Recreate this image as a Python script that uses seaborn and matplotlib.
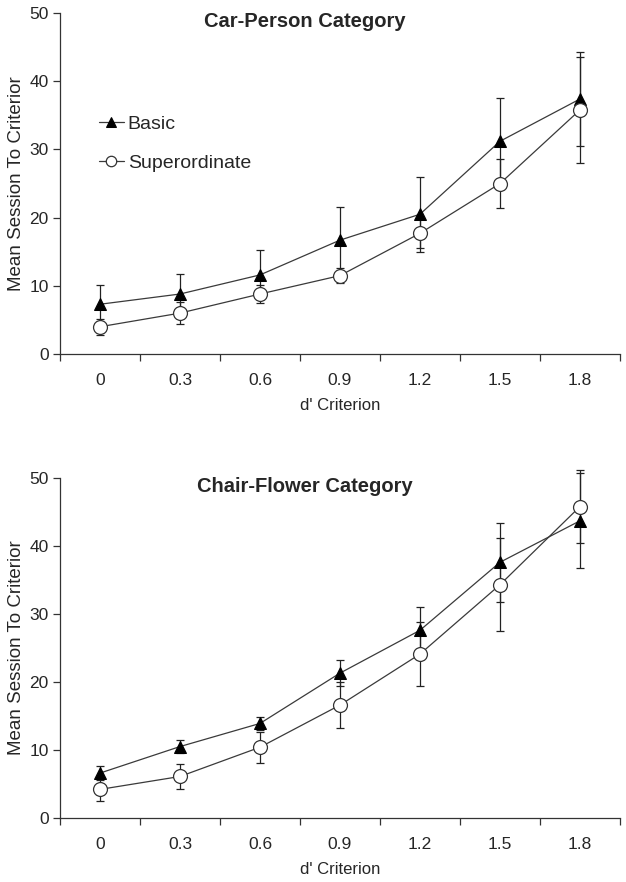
import numpy as np
import pandas as pd
import matplotlib
matplotlib.use("Agg")
import matplotlib.pyplot as plt
import seaborn as sns

# ----------------------------
# Data
# ----------------------------
criteria = ["0", "0.3", "0.6", "0.9", "1.2", "1.5", "1.8"]

car_basic = [7.3, 8.8, 11.6, 16.7, 20.5, 31.2, 37.4]
car_basic_err = [2.8, 3.0, 3.6, 4.8, 5.5, 6.4, 6.9]
car_super = [4.0, 6.0, 8.8, 11.5, 17.7, 25.0, 35.8]
car_super_err = [1.2, 1.6, 1.3, 1.1, 2.2, 3.6, 7.8]

chair_basic = [6.6, 10.5, 13.9, 21.3, 27.6, 37.6, 43.7]
chair_basic_err = [1.0, 1.0, 1.0, 1.9, 3.4, 5.8, 7.0]
chair_super = [4.2, 6.1, 10.4, 16.6, 24.1, 34.3, 45.8]
chair_super_err = [1.7, 1.9, 2.3, 3.4, 4.7, 6.8, 5.4]

panels = [
    ("Car-Person Category", car_basic, car_basic_err, car_super, car_super_err),
    ("Chair-Flower Category", chair_basic, chair_basic_err, chair_super, chair_super_err),
]

# ----------------------------
# Plot
# ----------------------------
sns.set_theme(style="white")
plt.rcParams["font.family"] = ["Liberation Sans", "DejaVu Sans"]

fig = plt.figure(figsize=(6.26, 8.82), dpi=100)
ax_top = fig.add_axes([0.0958, 0.5986, 0.8946, 0.3866])
ax_bot = fig.add_axes([0.0958, 0.0726, 0.8946, 0.3855])

line_col = "#3a3a3a"
pos = np.arange(len(criteria))

for ax, (title, b, be, s, se) in zip([ax_top, ax_bot], panels):
    df = pd.DataFrame({"pos": pos, "Basic": b, "Superordinate": s})

    for vals, errs in [(b, be), (s, se)]:
        eb = ax.errorbar(pos, vals, yerr=errs, fmt="none", ecolor="#222222",
                         elinewidth=0.9, capsize=3, capthick=0.9, zorder=2)
        for artist in eb.lines[1] + eb.lines[2]:
            artist.set_clip_on(False)

    sns.lineplot(data=df, x="pos", y="Basic", ax=ax, color=line_col,
                 linewidth=0.9, marker="^", markersize=9,
                 markerfacecolor="black", markeredgecolor="black",
                 label="Basic", zorder=3)
    sns.lineplot(data=df, x="pos", y="Superordinate", ax=ax, color=line_col,
                 linewidth=0.9, marker="o", markersize=10,
                 markerfacecolor="white", markeredgecolor="#333333",
                 markeredgewidth=0.9, label="Superordinate", zorder=4)

    ax.set_xlim(-0.5, len(criteria) - 0.5)
    ax.set_ylim(0, 50)
    ax.set_yticks([0, 10, 20, 30, 40, 50])
    ax.tick_params(axis="y", labelsize=12.5, length=5, width=0.9,
                   direction="out", left=True, color="#333333", pad=3)

    # Excel-style: tick marks between categories, labels at the centres
    ax.set_xticks(np.arange(-0.5, len(criteria), 1.0))
    ax.set_xticklabels([])
    ax.set_xticks(pos, minor=True)
    ax.set_xticklabels(criteria, minor=True)
    ax.tick_params(axis="x", which="major", length=5, width=0.9,
                   direction="out", bottom=True, color="#333333")
    ax.tick_params(axis="x", which="minor", length=0, labelsize=12.5, pad=14)

    for side in ["top", "right"]:
        ax.spines[side].set_visible(False)
    for side in ["left", "bottom"]:
        ax.spines[side].set_color("#333333")
        ax.spines[side].set_linewidth(0.9)

    ax.set_xlabel("d' Criterion", fontsize=12, labelpad=7)
    ax.set_ylabel("Mean Session To Criterior", fontsize=13.5, labelpad=3)
    ax.text(0.4375, 0.976, title, transform=ax.transAxes, ha="center",
            va="center", fontsize=14.5, fontweight="bold")
    ax.grid(False)

ax_top.legend(loc="upper left", bbox_to_anchor=(0.055, 0.724), frameon=False,
              fontsize=14, handlelength=1.3, handletextpad=0.2,
              markerscale=0.75, labelspacing=1.1, borderaxespad=0)
if ax_bot.get_legend() is not None:
    ax_bot.get_legend().remove()

fig.savefig("out.png", dpi=100)
plt.close(fig)
